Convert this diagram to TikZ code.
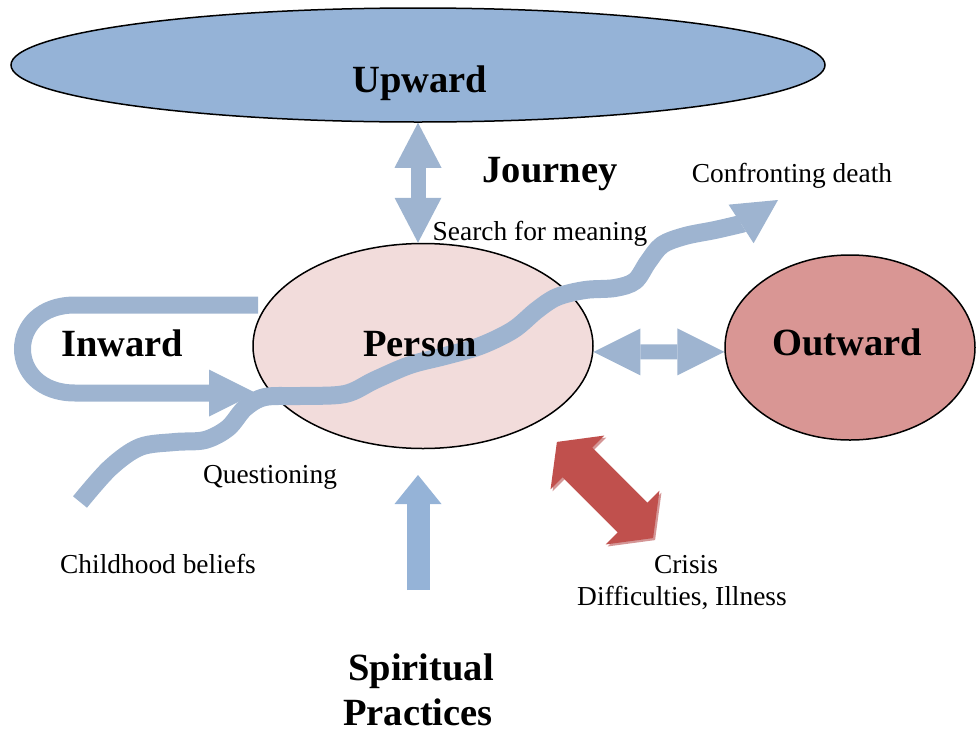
\documentclass[tikz,border=0pt]{standalone}
\usepackage{fontspec}
\setmainfont{Liberation Serif}
\usetikzlibrary{arrows.meta,shapes.geometric,calc}
\definecolor{upblue}{RGB}{149,179,215}
\definecolor{arrgray}{RGB}{158,180,208}
\definecolor{personpink}{RGB}{242,220,219}
\definecolor{outred}{RGB}{217,150,148}
\definecolor{crisisred}{RGB}{192,80,77}
\definecolor{crisisshadow}{RGB}{212,150,150}
\tikzset{
  oval/.style={ellipse, draw=black, line width=1.5pt, inner sep=0pt},
  bigtext/.style={font=\fontsize{38.5}{45}\selectfont\bfseries, anchor=base, inner sep=0pt},
  smalltext/.style={font=\fontsize{27.4}{32}\selectfont, anchor=base, inner sep=0pt},
  tipA/.tip={Triangle[length=45pt,width=47pt,line width=0pt]},
  tipB/.tip={Triangle[length=47pt,width=47pt,line width=0pt]},
  tipC/.tip={Triangle[length=44pt,width=46pt,line width=0pt]},
  tipD/.tip={Triangle[length=29pt,width=47pt,line width=0pt]},
  grayarrow/.style={draw=arrgray, line width=#1},
}
\begin{document}
\begin{tikzpicture}[x=1pt,y=-1pt]
\useasboundingbox (0,0) rectangle (977,734);
% ellipses
\node[oval, fill=upblue, minimum width=814pt, minimum height=114pt] (up) at (418,65) {};
\node[oval, fill=personpink, minimum width=340pt, minimum height=205pt] (person) at (423,346) {};
\node[oval, fill=outred, minimum width=250pt, minimum height=185pt] (outward) at (850,347.5) {};
% upward double arrow
\draw[grayarrow=15pt, tipA-tipA] (up.south) -- (up.south |- person.north);
% horizontal double arrow
\draw[grayarrow=15pt, tipB-tipB] (person.-2.5) -- (outward.182);
% inward loop
\coordinate (in1) at (258,305);
\coordinate (in2) at (256,393);
\draw[grayarrow=17pt, -tipB] (in1) -- (75,305) .. controls (5,305) and (5,393) .. (75,393) -- (in2);
% wavy journey path
\coordinate (cb) at (80,502);
\coordinate (cd) at (778,200);
\draw[grayarrow=18pt, -tipC] plot[smooth, tension=0.55] coordinates {(cb) (110,468) (140,447) (175,442) (205,440) (228,428) (245,408) (265,397) (300,396) (345,394) (375,380) (410,365) (445,356) (480,346) (513,330) (537,310) (557,297) (585,290) (615,288) (635,281) (648,262) (662,245) (685,236) (715,230) (741,224)} -- (cd);
% spiritual practices arrow
\coordinate (spbase) at (418,590);
\coordinate (sptip) at (418,475);
\draw[draw=upblue, line width=23pt, -tipD] (spbase) -- (sptip);
% crisis arrow
\begin{scope}[shift={(607,492)}, rotate=-45]
\fill[crisisshadow] (-68,0) -- (-39,-38) -- (-39,-21) -- (39,-21) -- (39,-38) -- (68,0) -- (39,38) -- (39,21) -- (-39,21) -- (-39,38) -- cycle;
\end{scope}
\begin{scope}[shift={(605,490)}, rotate=-45]
\fill[crisisred] (-68,0) -- (-39,-38) -- (-39,-21) -- (39,-21) -- (39,-38) -- (68,0) -- (39,38) -- (39,21) -- (-39,21) -- (-39,38) -- cycle;
\end{scope}
% labels
\node[bigtext] (tup) at (420,92) {Upward};
\node[bigtext] (tjour) at (550,182) {Journey};
\node[bigtext] (tperson) at (420,356) {Person};
\node[bigtext] (tout) at (847,355) {Outward};
\node[bigtext] (tin) at (122,356) {Inward};
\node[bigtext] (tsp1) at (421,680) {Spiritual};
\node[bigtext] (tsp2) at (418,725) {Practices};
\node[smalltext] (tsearch) at (540,240) {Search for meaning};
\node[smalltext] (tdeath) at (792,182) {Confronting death};
\node[smalltext] (tquest) at (270,483) {Questioning};
\node[smalltext] (tchild) at (158,573) {Childhood beliefs};
\node[smalltext] (tcrisis) at (686,573) {Crisis};
\node[smalltext] (tdiff) at (682,605) {Difficulties, Illness};
\end{tikzpicture}
\end{document}
